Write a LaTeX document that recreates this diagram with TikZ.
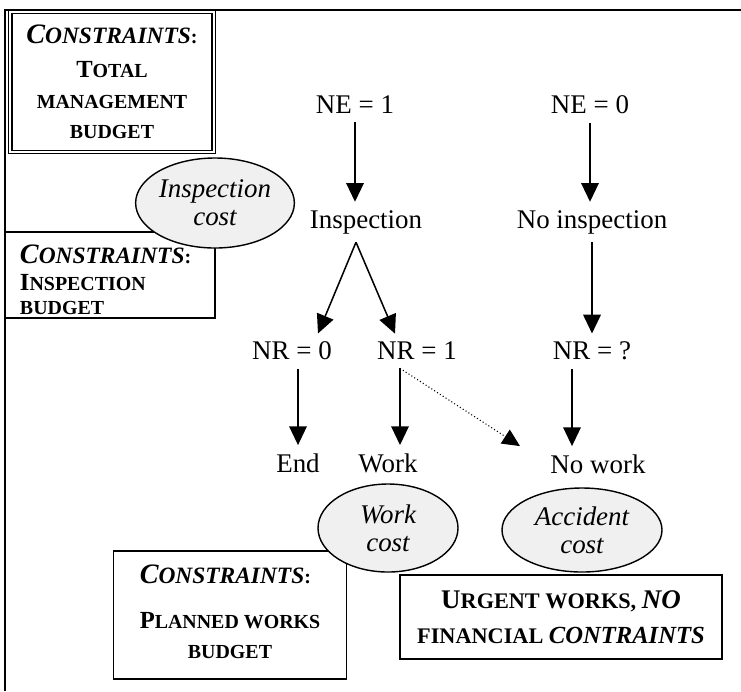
\documentclass[tikz,border=0pt]{standalone}
\usepackage{fontspec}
\setmainfont{Liberation Serif}
\usetikzlibrary{arrows.meta,shapes.geometric}

% fake small caps: big first letter, smaller rest
\newcommand{\fsc}[2]{{\fontsize{21}{26}\selectfont #1}{\fontsize{17}{26}\selectfont #2}}
\newcommand{\fsci}[2]{{\itshape\fontsize{24}{26}\selectfont #1}{\itshape\fontsize{20}{26}\selectfont #2}}

\tikzset{
  flow/.style={font=\fontsize{23}{26}\selectfont, inner sep=7pt},
  box/.style={draw, line width=1.2pt, inner sep=0pt, font=\bfseries\fontsize{17}{26}\selectfont},
  cost/.style={ellipse, draw, line width=1.2pt, fill=black!6, inner sep=0pt,
    align=center, font=\itshape\fontsize{23}{24}\selectfont},
  arr/.style={line width=1.3pt, -{Triangle[length=16pt,width=15pt]}},
  dotarr/.style={line width=0.9pt, dotted, -{Triangle[length=15pt,width=14pt]}},
}

\begin{document}
\begin{tikzpicture}[x=0.03cm,y=-0.03cm]
\useasboundingbox (0,0) rectangle (741,691);
% outer frame
\draw[line width=1.4pt] (5,691) -- (5,10) -- (741,10);

% constraint boxes
\node[box, double, double distance=1.6pt, minimum width=6.1cm, minimum height=4.2cm, align=center]
  (boxtotal) at (112,82)
  {\fsci{C}{ONSTRAINTS}:\\[3pt] \fsc{T}{OTAL}\\ \fsc{}{MANAGEMENT}\\ \fsc{}{BUDGET}};
\node[box, minimum width=6.3cm, minimum height=2.58cm, text width=5.4cm, align=left,
  font=\bfseries\fontsize{17}{20}\selectfont]
  (boxinsp) at (110,275)
  {\rule{0pt}{24pt}\fsci{C}{ONSTRAINTS}:\\[3pt] \fsc{I}{NSPECTION}\\ \fsc{}{BUDGET}};
\node[box, minimum width=7.0cm, minimum height=3.84cm]
  (boxplan) at (230,615)
  {\begin{tabular}{@{}l@{}}
   \fsci{C}{ONSTRAINTS}:\\[12pt]
   \fsc{P}{LANNED WORKS}\\
   \multicolumn{1}{@{}c@{}}{\fsc{}{BUDGET}}
   \end{tabular}};
\node[box, minimum width=9.66cm, minimum height=2.52cm, align=center,
  font=\bfseries\fontsize{19}{30}\selectfont]
  (boxurgent) at (561,617)
  {{\fontsize{23}{30}\selectfont U}RGENT WORKS, {\itshape\fontsize{23}{30}\selectfont NO}\\
   FINANCIAL {\itshape\fontsize{21}{30}\selectfont CONTRAINTS}};

% cost ellipses
\node[cost, minimum width=4.5cm, minimum height=2.7cm] (inspcost) at (215,203) {Inspection\\cost};
\node[cost, minimum width=4.2cm, minimum height=2.64cm] (workcost) at (388,528) {Work\\cost};
\node[cost, minimum width=4.8cm, minimum height=2.52cm] (acccost) at (582,530) {Accident\\cost};

% decision tree
\node[flow] (ne1) at (355,105) {NE = 1};
\node[flow] (ne0) at (590,105) {NE = 0};
\node[flow] (insp) at (366,222) {Inspection};
\node[flow] (noinsp) at (592,222) {No inspection};
\node[flow] (nr0) at (292,351) {NR = 0};
\node[flow] (nr1) at (417,351) {NR = 1};
\node[flow] (nrq) at (592,351) {NR = ?};
\node[flow] (end) at (298,463) {End};
\node[flow] (work) at (388,463) {Work};
\node[flow] (nowork) at (598,464) {No work};

\coordinate (apex) at ([xshift=-0.3cm]insp.south);
\coordinate (a0) at ([xshift=0.18cm]nr0.south);
\coordinate (a1) at ([xshift=-0.51cm]nr1.south);
\coordinate (aq) at ([xshift=-0.6cm]nrq.south);

\draw[arr] (ne1.south) -- (ne1.south |- insp.north);
\draw[arr] (ne0.south) -- (ne0.south |- noinsp.north);
\draw[arr] (apex) -- ([xshift=0.78cm]nr0.north);
\draw[arr] (apex) -- ([xshift=-0.66cm]nr1.north);
\draw[arr] (noinsp.south) -- (noinsp.south |- nrq.north);
\draw[arr] (a0) -- (a0 |- end.north);
\draw[arr] (a1) -- (a1 |- work.north);
\draw[arr] (aq) -- (aq |- nowork.north);
\draw[dotarr] (a1) -- ([xshift=-2.34cm]nowork.north);
\end{tikzpicture}
\end{document}
